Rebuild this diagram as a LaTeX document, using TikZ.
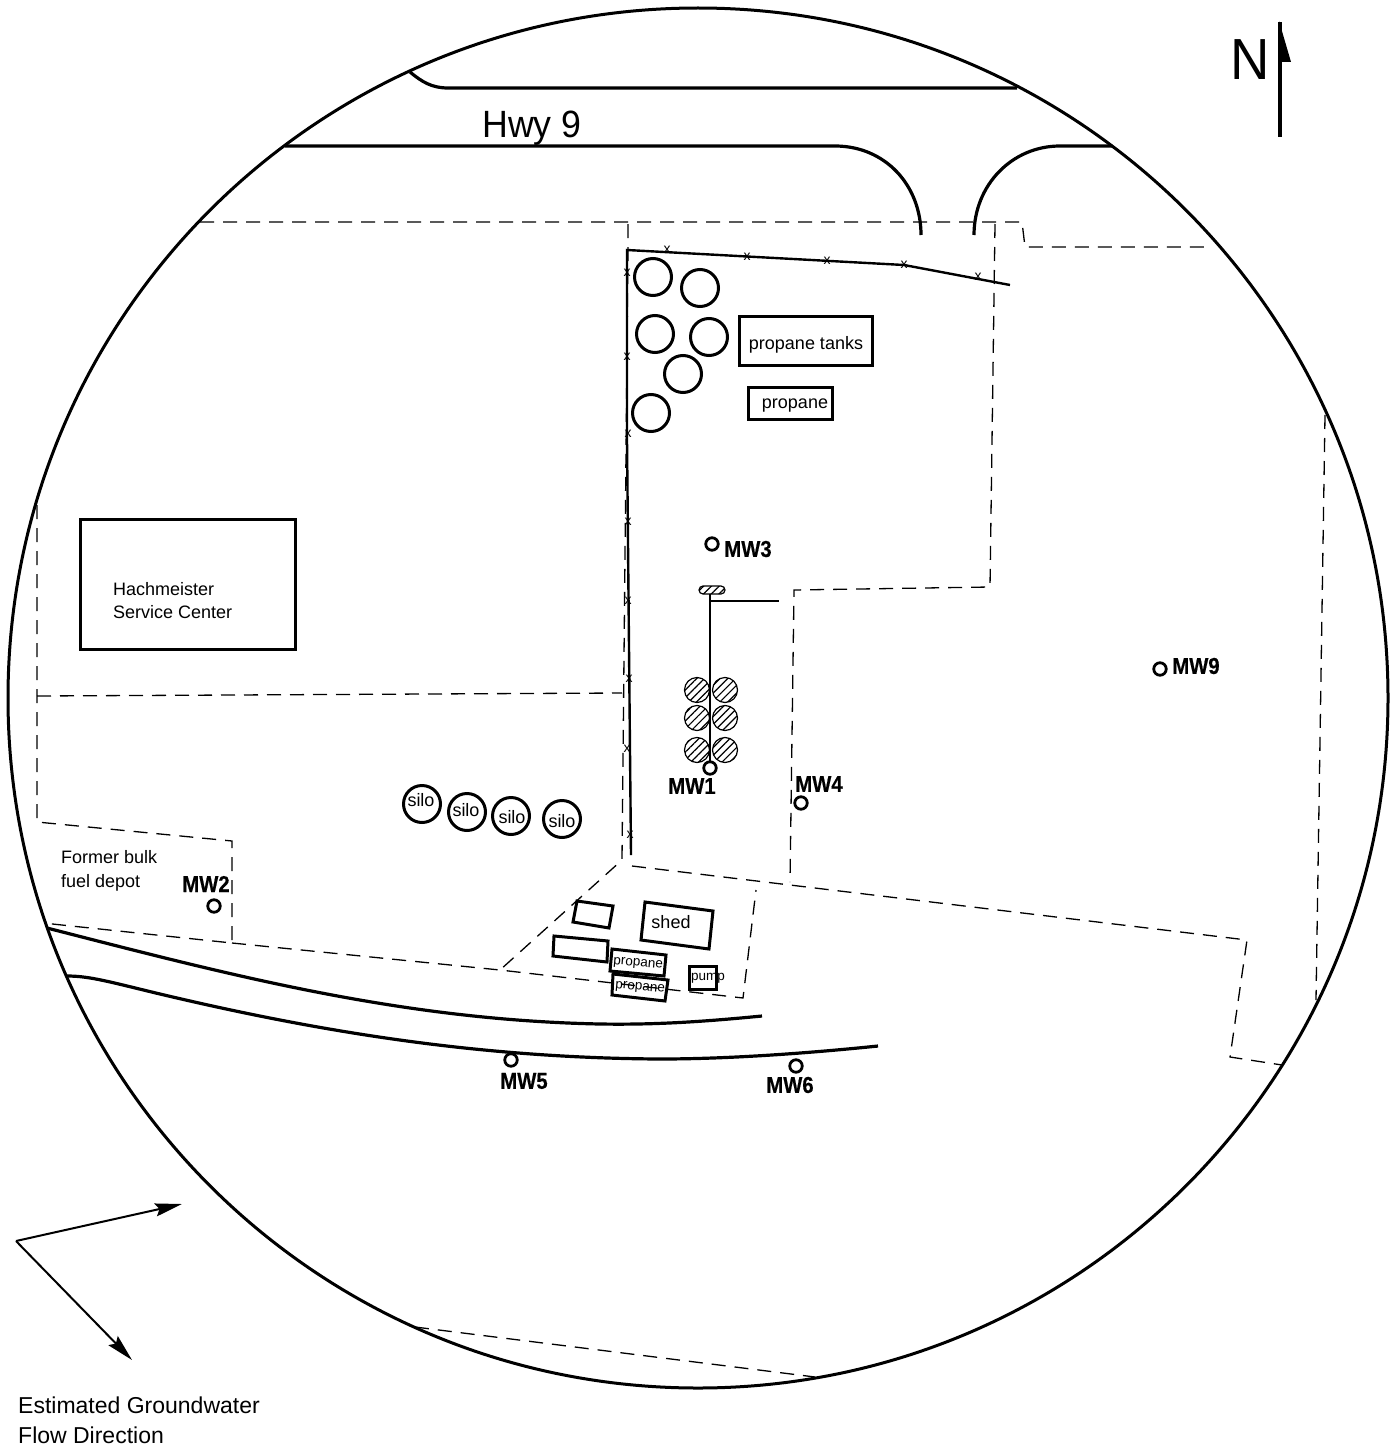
\documentclass[tikz,border=0pt]{standalone}
\usepackage{fontspec}
\setmainfont{Liberation Sans}
\newfontfamily\wellfont[FakeStretch=0.88,FakeBold=0.5]{Liberation Sans}
\newfontfamily\tallfont[FakeStretch=0.94]{Liberation Sans}
\usetikzlibrary{arrows.meta,patterns.meta}

\begin{document}
\begin{tikzpicture}[x=1pt,y=-1pt,
    road/.style={line width=3.2pt},
    lot/.style={dash pattern=on 14pt off 9pt,line width=1.3pt},
    fence/.style={line width=2.4pt},
    box/.style={line width=3pt},
    tank/.style={circle,draw,line width=3pt,inner sep=0pt,minimum size=37pt},
    hatched/.style={circle,draw,line width=1.2pt,inner sep=0pt,minimum size=25pt,pattern={Lines[angle=45,distance=5.5pt,line width=1.2pt]}},
    well/.style={circle,draw,line width=2.8pt,inner sep=0pt,minimum size=12.5pt},
    welltag/.style={font=\wellfont\bfseries\fontsize{23}{23}\selectfont,inner sep=0pt},
    tag/.style={font=\fontsize{18}{18}\selectfont,inner sep=0pt},
    smalltag/.style={font=\fontsize{13.5}{13.5}\selectfont,inner sep=0pt},
    fencex/.style={font=\fontsize{14}{14}\selectfont,inner sep=0pt},
    flow/.style={line width=2pt,-{Stealth[length=27pt,width=13pt,inset=4pt]}}]
    \useasboundingbox (0,0) rectangle (1394,1453);

    \coordinate (F0) at (16,1241);
    \coordinate (F1) at (182,1204);
    \coordinate (F2) at (132,1360);

    \draw[line width=3pt] (698,698) circle (690);

    % roads
    \draw[road] (410,72) .. controls (422,82) and (432,88) .. (448,88) -- (1017,88);
    \draw[road] (285,146) -- (835,146) .. controls (885,146) and (921,185) .. (921,235);
    \draw[road] (1112,146) -- (1060,146) .. controls (1012,146) and (974,185) .. (974,235);
    \draw[road] (47,928) .. controls (230,975) and (400,1020) .. (600,1024) .. controls (660,1025) and (710,1021) .. (762,1016);
    \draw[road] (67,976) .. controls (90,976) and (110,982) .. (160,994) .. controls (320,1032) and (480,1058) .. (660,1059) .. controls (730,1059) and (810,1053) .. (878,1046);

    % lot lines
    \draw[lot] (200,222) -- (1022,222) -- (1025,247) -- (1205,247);
    \draw[lot] (628,224) -- (628,250) -- (622,860) -- (500,970);
    \draw[lot] (995,224) -- (990,587) -- (794,590) -- (790,882);
    \draw[lot] (37,505) -- (37,822) -- (232,841) -- (232,943) -- (43,923);
    \draw[lot] (37,696) -- (622,693);
    \draw[lot] (232,943) -- (500,970) -- (743,998) -- (756,890);
    \draw[lot] (632,866) -- (1247,940) -- (1230,1057) -- (1282,1065);
    \draw[lot] (1325,415) -- (1316,1000);
    \draw[lot] (415,1327) -- (815,1377);

    % fence
    \draw[fence] (1010,285) -- (904,265) -- (627,250) -- (627,440) -- (631,855);
    \foreach \fx/\fy in {667/250,747/257,827/261,904/265,978/277,627/273,627/357,628/434,628/522,628/601,629/679,627/749,630/835}
        \node[fencex] at (\fx,\fy) {x};

    % propane yard
    \foreach \tx/\ty in {653/277,700/288,655/334,709/337,683/374,651/413}
        \node[tank] at (\tx,\ty) {};
    \draw[box] (739,316) rectangle (872,365);
    \node[tag] (ptanks) at (806,345) {propane tanks};
    \draw[box] (748,387) rectangle (832,419);
    \node[tag] (ptank) at (795,406) {propane};

    % service center
    \draw[box] (80,519) rectangle (295,649);
    \node[tag,anchor=west] (svc1) at (113,589) {Hachmeister};
    \node[tag,anchor=west] (svc2) at (113,612) {Service Center};
    \node[tag,anchor=west] (depot1) at (61,857) {Former bulk};
    \node[tag,anchor=west] (depot2) at (61,883) {fuel depot};

    % pipe and tanks
    \foreach \hx/\hy in {697/690,725/690,697/718,725/718,697/750,725/750}
        \node[hatched] at (\hx,\hy) {};
    \node[draw,rounded corners=4pt,line width=1.2pt,minimum width=26pt,minimum height=8pt,inner sep=0pt,pattern={Lines[angle=45,distance=5.5pt,line width=1.2pt]}] (pill) at (712,590) {};
    \draw[line width=2.4pt] (710,594) -- (710,762);
    \draw[line width=2.4pt] (710,601) -- (779,601);

    % silos
    \node[tank] (silo1) at (422,804) {};
    \node[tank] (silo2) at (467,812) {};
    \node[tank] (silo3) at (511,816) {};
    \node[tank] (silo4) at (562,819) {};
    \node[tag] at (421,800) {silo};
    \node[tag] at (466,810) {silo};
    \node[tag] at (512,817) {silo};
    \node[tag] at (562,821) {silo};

    % buildings by the road
    \draw[box] (645,902) -- (713,911) -- (709,949) -- (641,940) -- cycle;
    \node[tag] (shed) at (671,922) {shed};
    \draw[box] (577,901) -- (613,906) -- (609,928) -- (573,922) -- cycle;
    \draw[box] (554,936) -- (608,941) -- (607,962) -- (553,956) -- cycle;
    \draw[box] (612,949) -- (666,955) -- (664,976) -- (610,971) -- cycle;
    \node[smalltag,rotate=-5] (prop1) at (638,964) {propane};
    \draw[box] (613,974) -- (668,980) -- (665,1001) -- (612,995) -- cycle;
    \node[smalltag,rotate=-5] (prop2) at (640,988) {propane};
    \draw[box] (689,966) rectangle (716,989);
    \node[smalltag] (pump) at (708,978) {pump};

    % wells
    \node[well] (MW1) at (710,768) {};
    \node[well] (MW2) at (214,906) {};
    \node[well] (MW3) at (712,544) {};
    \node[well] (MW4) at (801,803) {};
    \node[well] (MW5) at (511,1060) {};
    \node[well] (MW6) at (796,1066) {};
    \node[well] (MW9) at (1160,669) {};
    \node[welltag] at (692,786) {MW1};
    \node[welltag] at (206,884) {MW2};
    \node[welltag] at (748,549) {MW3};
    \node[welltag] at (819,784) {MW4};
    \node[welltag] at (524,1081) {MW5};
    \node[welltag] at (790,1085) {MW6};
    \node[welltag] at (1196,666) {MW9};

    % highway and north
    \node[font=\tallfont\fontsize{38}{38}\selectfont,inner sep=0pt] (hwy) at (532,128) {Hwy 9};
    \node[font=\tallfont\fontsize{58}{58}\selectfont,inner sep=0pt] (north) at (1250,60) {N};
    \draw[line width=3.2pt] (1280,137) -- (1280,22);
    \fill (1279,21) -- (1291,62) -- (1279,62) -- cycle;

    % groundwater
    \draw[flow] (F0) -- (F1);
    \draw[flow] (F0) -- (F2);
    \node[font=\fontsize{23}{23}\selectfont,inner sep=0pt,anchor=west] (gw1) at (18,1405) {Estimated Groundwater};
    \node[font=\fontsize{23}{23}\selectfont,inner sep=0pt,anchor=west] (gw2) at (18,1435) {Flow Direction};
\end{tikzpicture}
\end{document}
